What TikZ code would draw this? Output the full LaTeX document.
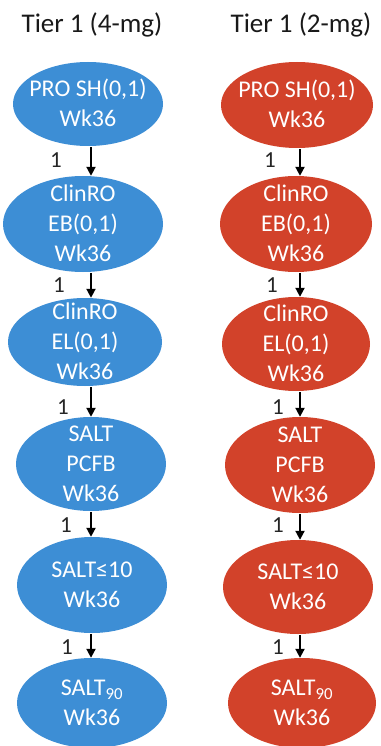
\documentclass[tikz,border=0pt]{standalone}
\usepackage{fontspec}
\setmainfont{Carlito}
\usetikzlibrary{shapes.geometric,arrows.meta}
\definecolor{tierblue}{HTML}{3D8ED5}
\definecolor{tierred}{HTML}{D2422A}
% centred multi-line text that does not widen or heighten its ellipse
\newcommand{\ovaltext}[1]{\makebox[0pt]{\smash{\raisebox{-7.5pt}{\begin{tabular}{@{}c@{}}#1\end{tabular}}}}}
\tikzset{
  oval/.style={ellipse,inner sep=0pt,text=white,
    font=\fontsize{24}{30}\selectfont},
  bluebox/.style={oval,fill=tierblue},
  redbox/.style={oval,fill=tierred},
  flow/.style={line width=2pt,-{Triangle[width=9pt,length=9pt]}},
  weight/.style={font=\fontsize{23}{28}\selectfont,text=black!85},
  heading/.style={font=\fontsize{27}{32}\selectfont,anchor=base,text=black!90}
}
\begin{document}
\begin{tikzpicture}[x=1pt,y=-1pt]
\useasboundingbox (0,0) rectangle (380,746);
\clip (0,0) rectangle (380,746);

% column headings
\node[heading] (hl) at (92,33) {Tier 1 (4-mg)};
\node[heading] (hr) at (301,33) {Tier 1 (2-mg)};

% 4-mg chain
\node[bluebox,minimum width=150pt,minimum height=84pt] (l1) at (88,104) {\ovaltext{PRO SH(0,1)\\Wk36}};
\node[bluebox,minimum width=160pt,minimum height=96pt] (l2) at (83,224) {\ovaltext{ClinRO\\EB(0,1)\\Wk36}};
\node[bluebox,minimum width=154pt,minimum height=88pt] (l3) at (85,342) {\ovaltext{ClinRO\\EL(0,1)\\Wk36}};
\node[bluebox,minimum width=150pt,minimum height=94pt] (l4) at (91,464) {\ovaltext{SALT\\PCFB\\Wk36}};
\node[bluebox,minimum width=150pt,minimum height=96pt] (l5) at (92,585) {\ovaltext{SALT≤10\\Wk36}};
\node[bluebox,minimum width=150pt,minimum height=90pt] (l6) at (92,703) {\ovaltext{SALT\textsubscript{90}\\Wk36}};

% 2-mg chain
\node[redbox,minimum width=152pt,minimum height=86pt] (r1) at (297,105) {\ovaltext{PRO SH(0,1)\\Wk36}};
\node[redbox,minimum width=152pt,minimum height=96pt] (r2) at (296,224) {\ovaltext{ClinRO\\EB(0,1)\\Wk36}};
\node[redbox,minimum width=148pt,minimum height=94pt] (r3) at (296,344) {\ovaltext{ClinRO\\EL(0,1)\\Wk36}};
\node[redbox,minimum width=150pt,minimum height=96pt] (r4) at (300,465) {\ovaltext{SALT\\PCFB\\Wk36}};
\node[redbox,minimum width=150pt,minimum height=94pt] (r5) at (298,587) {\ovaltext{SALT≤10\\Wk36}};
\node[redbox,minimum width=148pt,minimum height=90pt] (r6) at (302,703) {\ovaltext{SALT\textsubscript{90}\\Wk36}};

% arrow columns
\coordinate (cl) at (91,0);
\coordinate (cr) at (300,0);

\foreach \a/\b in {l1/l2,l2/l3,l3/l4,l4/l5,l5/l6}
  \draw[flow,shorten <=1pt] (\a.south -| cl) -- (\b.north -| cl);
\foreach \a/\b in {r1/r2,r2/r3,r3/r4,r4/r5,r5/r6}
  \draw[flow,shorten <=1pt] (\a.south -| cr) -- (\b.north -| cr);

% weights
\node[weight] (wl1) at (56,160) {1};
\node[weight] (wl2) at (59,285) {1};
\node[weight] (wl3) at (63,407) {1};
\node[weight] (wl4) at (66,525) {1};
\node[weight] (wl5) at (67,647) {1};
\node[weight] (wr1) at (270,160) {1};
\node[weight] (wr2) at (272,285) {1};
\node[weight] (wr3) at (278,407) {1};
\node[weight] (wr4) at (278,525) {1};
\node[weight] (wr5) at (278,647) {1};
\end{tikzpicture}
\end{document}
